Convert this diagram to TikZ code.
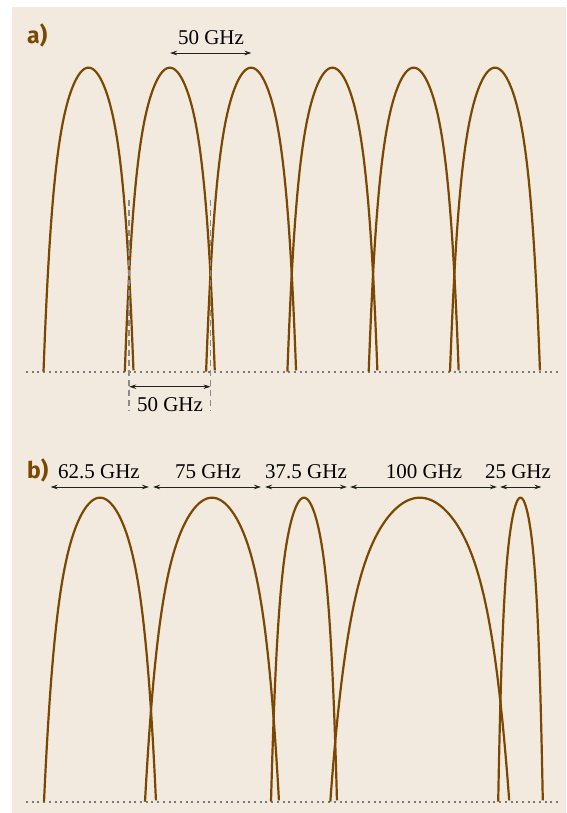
\documentclass[tikz,border=0pt]{standalone}
\usepackage{fontspec}
\setmainfont{Liberation Serif}
\newfontfamily\labfont{Fira Sans}
\usetikzlibrary{arrows.meta}
\definecolor{bgc}{HTML}{F2EADF}
\definecolor{curvec}{HTML}{7A4800}
\definecolor{dimc}{HTML}{222222}
\definecolor{dotc}{HTML}{7A7A7A}
\definecolor{dashc}{HTML}{8A8A8A}
\newcommand\chanplot[3]{\draw[chanline] plot[domain=-1:1,samples=201,variable=\u] ({#1+#2*\u},{#3-304*(1-0.5*\u*\u-0.5*\u*\u*\u*\u*\u*\u)});}
\begin{document}
\begin{tikzpicture}[x=1pt,y=-1pt,
  chanline/.style={curvec,line width=2.2pt,line join=round},
  baseline dots/.style={dotc,line width=2pt,dash pattern=on 2pt off 3.7pt},
  guide/.style={dashc,line width=1.5pt,dash pattern=on 6pt off 4pt},
  dimarrow/.style={dimc,line width=0.8pt,{Stealth[length=7pt,width=4.5pt]}-{Stealth[length=7pt,width=4.5pt]}},
  freqlabel/.style={font=\fontsize{21}{24}\selectfont,anchor=base,inner sep=0pt},
  panellabel/.style={font=\labfont\bfseries\fontsize{23}{26}\selectfont,text=curvec,anchor=base west,inner sep=0pt}]
\useasboundingbox (0,0) rectangle (566,813);
\fill[white] (0,0) rectangle (566,813);
\fill[bgc] (12,7) rectangle (566,813);
% panel labels
\node[panellabel] (pa) at (27,44) {a)};
\node[panellabel] (pb) at (27,478) {b)};
% baselines
\coordinate (ba1) at (26,371.7);
\coordinate (ba2) at (558,371.7);
\coordinate (bb1) at (26,801.7);
\coordinate (bb2) at (558,801.7);
\draw[baseline dots] (ba1) -- (ba2);
\draw[baseline dots] (bb1) -- (bb2);
% panel a channels
\foreach \c in {0,...,5}{
  \chanplot{88.5+81.3*\c}{45}{371.7}
}
% panel b channels
\chanplot{100}{56}{801.7}
\chanplot{212}{67}{801.7}
\chanplot{304}{33}{801.7}
\chanplot{419.8}{89.5}{801.7}
\chanplot{520.5}{22.3}{801.7}
% guides
\coordinate (g1t) at (129.2,200);
\coordinate (g1b) at (129.2,411);
\coordinate (g2t) at (210.5,200);
\coordinate (g2b) at (210.5,411);
\draw[guide] (g1t) -- (g1b);
\draw[guide] (g2t) -- (g2b);
% panel a dimensions
\node[freqlabel] (ta) at (211,44.3) {50 GHz};
\coordinate (da1) at (170,53);
\coordinate (da2) at (251.5,53);
\draw[dimarrow] (da1) -- (da2);
\node[freqlabel] (tb) at (170,411.5) {50 GHz};
\coordinate (db1) at (129.2,386.7);
\coordinate (db2) at (210.5,386.7);
\draw[dimarrow] (db1) -- (db2);
% panel b dimensions
\node[freqlabel] (l1) at (99,478) {62.5 GHz};
\node[freqlabel] (l2) at (208,478) {75 GHz};
\node[freqlabel] (l3) at (306,478) {37.5 GHz};
\node[freqlabel] (l4) at (424,478) {100 GHz};
\node[freqlabel] (l5) at (518,478) {25 GHz};
\coordinate (e0) at (50.5,487);
\coordinate (e1l) at (149,487);
\coordinate (e1r) at (153,487);
\coordinate (e2l) at (261,487);
\coordinate (e2r) at (265,487);
\coordinate (e3l) at (347,487);
\coordinate (e3r) at (350,487);
\coordinate (e4l) at (497,487);
\coordinate (e4r) at (500,487);
\coordinate (e5) at (541.5,487);
\draw[dimarrow] (e0) -- (e1l);
\draw[dimarrow] (e1r) -- (e2l);
\draw[dimarrow] (e2r) -- (e3l);
\draw[dimarrow] (e3r) -- (e4l);
\draw[dimarrow] (e4r) -- (e5);
\end{tikzpicture}
\end{document}
